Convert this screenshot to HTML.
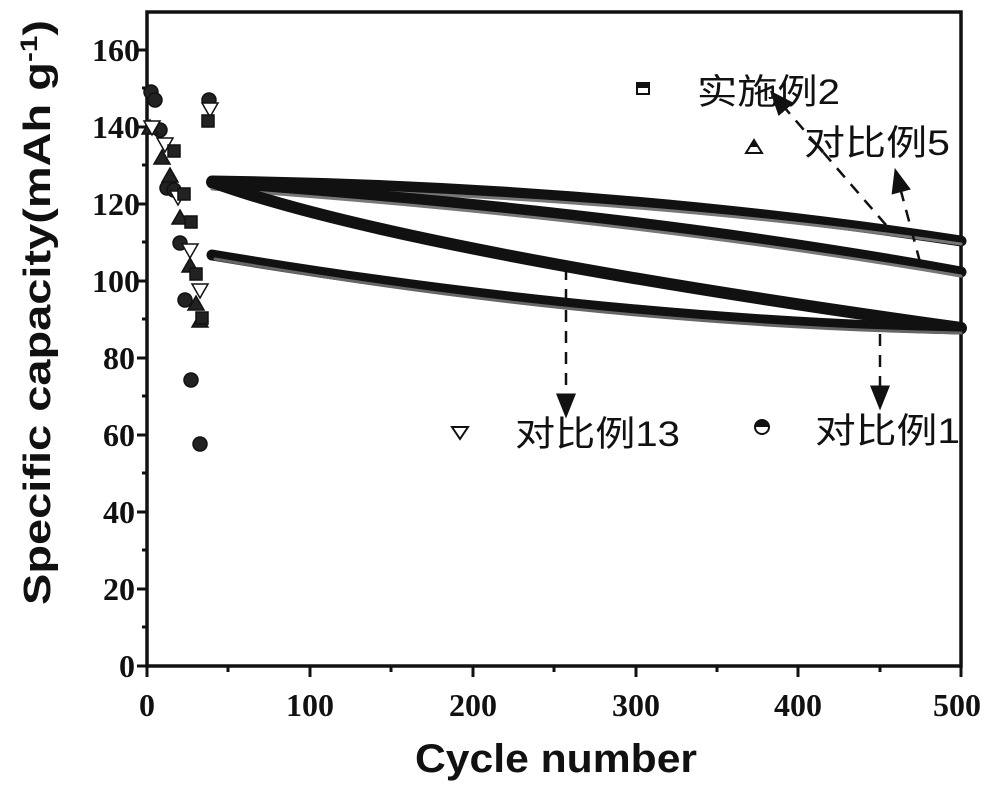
<!DOCTYPE html>
<html><head><meta charset="utf-8"><style>
html,body{margin:0;padding:0;background:#fff;}
svg{display:block;}
.t{font-family:"Liberation Serif",serif;font-weight:bold;font-size:32px;fill:#111;}
.c{font-family:"Liberation Sans","Noto Sans CJK SC",sans-serif;font-size:35px;fill:#111;}
</style></head><body>
<svg width="1000" height="790" viewBox="0 0 1000 790" xmlns="http://www.w3.org/2000/svg">
<defs>
<marker id="ah" markerWidth="10" markerHeight="10" refX="5" refY="5" orient="auto"><path d="M0,1 L10,5 L0,9 z" fill="#111"/></marker>
</defs>
<rect x="147" y="12" width="814" height="654" fill="none" stroke="#111" stroke-width="3.5"/>
<g stroke="#111" stroke-width="3">
<line x1="137" y1="666" x2="147" y2="666"/><line x1="137" y1="589" x2="147" y2="589"/><line x1="137" y1="512" x2="147" y2="512"/><line x1="137" y1="435" x2="147" y2="435"/><line x1="137" y1="358" x2="147" y2="358"/><line x1="137" y1="281" x2="147" y2="281"/><line x1="137" y1="204" x2="147" y2="204"/><line x1="137" y1="127" x2="147" y2="127"/><line x1="137" y1="50" x2="147" y2="50"/>
<line x1="142" y1="627" x2="147" y2="627"/><line x1="142" y1="550" x2="147" y2="550"/><line x1="142" y1="473" x2="147" y2="473"/><line x1="142" y1="396" x2="147" y2="396"/><line x1="142" y1="319" x2="147" y2="319"/><line x1="142" y1="242" x2="147" y2="242"/><line x1="142" y1="165" x2="147" y2="165"/><line x1="142" y1="88" x2="147" y2="88"/>
<line x1="147" y1="666" x2="147" y2="677"/><line x1="310" y1="666" x2="310" y2="677"/><line x1="473" y1="666" x2="473" y2="677"/><line x1="636" y1="666" x2="636" y2="677"/><line x1="798" y1="666" x2="798" y2="677"/><line x1="961" y1="666" x2="961" y2="677"/>
<line x1="228" y1="666" x2="228" y2="672"/><line x1="391" y1="666" x2="391" y2="672"/><line x1="554" y1="666" x2="554" y2="672"/><line x1="717" y1="666" x2="717" y2="672"/><line x1="880" y1="666" x2="880" y2="672"/>
</g>
<g class="t" text-anchor="end">
<text x="135" y="677">0</text><text x="135" y="600">20</text><text x="135" y="523">40</text><text x="135" y="446">60</text><text x="135" y="369">80</text><text x="140" y="292">100</text><text x="140" y="215">120</text><text x="140" y="138">140</text><text x="140" y="61">160</text>
</g>
<g class="t" text-anchor="middle">
<text x="147" y="716">0</text><text x="310" y="716">100</text><text x="473" y="716">200</text><text x="636" y="716">300</text><text x="798" y="716">400</text><text x="957" y="716">500</text>
</g>
<text x="415" y="772" textLength="282" lengthAdjust="spacingAndGlyphs" style="font-family:'Liberation Sans',sans-serif;font-weight:bold;font-size:40px;fill:#111">Cycle number</text>
<text transform="translate(50,605) rotate(-90)" textLength="585" lengthAdjust="spacingAndGlyphs" style="font-family:'Liberation Sans',sans-serif;font-weight:bold;font-size:38px;fill:#111">Specific capacity(mAh g<tspan dy="-13" font-size="24">-1</tspan><tspan dy="13">)</tspan></text>
<g fill="none" stroke-linecap="round">
<path d="M212,181 Q600,186 961,241" stroke="#111" stroke-width="11"/>
<path d="M212,187 Q620,195 961,244" stroke="#777" stroke-width="3"/>
<path d="M212,183 Q620,210 961,272" stroke="#111" stroke-width="11"/>
<path d="M212,189 Q620,218 961,276" stroke="#777" stroke-width="3"/>
<path d="M212,182 Q400,250 961,328" stroke="#111" stroke-width="12"/>
<path d="M212,255 Q600,320 961,329" stroke="#111" stroke-width="11"/>
<path d="M215,259 Q600,326 961,333" stroke="#666" stroke-width="3"/>
</g>
<g fill="#222" stroke="#111" stroke-width="1.5">
<circle cx="151" cy="92" r="7"/><circle cx="155" cy="100" r="7"/><circle cx="160" cy="130" r="7"/><circle cx="167" cy="188" r="7"/><circle cx="174" cy="190" r="7"/><circle cx="180" cy="243" r="7"/><circle cx="185" cy="300" r="7"/><circle cx="191" cy="380" r="7"/><circle cx="200" cy="444" r="7"/><circle cx="209" cy="100" r="7"/>
<path d="M150,120 l8,14 h-16z"/><path d="M162,150 l8,14 h-16z"/><path d="M170,168 l8,14 h-16z"/><path d="M180,210 l8,14 h-16z"/><path d="M190,258 l8,14 h-16z"/><path d="M196,296 l8,14 h-16z"/><path d="M200,313 l8,14 h-16z"/>
<path d="M152,135 l8,-14 h-16z" fill="#fff"/><path d="M165,152 l8,-14 h-16z" fill="#fff"/><path d="M178,205 l8,-14 h-16z" fill="#fff"/><path d="M190,258 l8,-14 h-16z" fill="#fff"/><path d="M200,298 l8,-14 h-16z" fill="#fff"/><path d="M210,117 l8,-14 h-16z" fill="#fff"/>
<rect x="168" y="145" width="12" height="12"/><rect x="178" y="188" width="12" height="12"/><rect x="185" y="216" width="12" height="12"/><rect x="190" y="268" width="12" height="12"/><rect x="196" y="312" width="12" height="12"/><rect x="202" y="115" width="12" height="12"/>
</g>
<rect x="637" y="83" width="12" height="11" fill="#fff" stroke="#111" stroke-width="2"/><rect x="637" y="83" width="12" height="5" fill="#111"/>
<path d="M754,140 l8,13 h-16z" fill="#fff" stroke="#111" stroke-width="2"/><path d="M754,140 l4,7 h-8z" fill="#111"/>
<path d="M460,439 l8,-12 h-16z" fill="#fff" stroke="#111" stroke-width="2"/>
<circle cx="762" cy="427" r="7" fill="#fff" stroke="#111" stroke-width="2"/><path d="M755,427 a7,7 0 0 1 14,0z" fill="#111"/>
<text class="c" x="697" y="104" textLength="143" lengthAdjust="spacingAndGlyphs">实施例2</text>
<text class="c" x="804" y="155" textLength="146" lengthAdjust="spacingAndGlyphs">对比例5</text>
<text class="c" x="515" y="446" textLength="165" lengthAdjust="spacingAndGlyphs">对比例13</text>
<text class="c" x="815" y="443" textLength="145" lengthAdjust="spacingAndGlyphs">对比例1</text>
<g stroke="#111" stroke-width="2.5" fill="none" stroke-dasharray="12,9">
<path d="M886,225 L778,100" marker-end="url(#ah)"/>
<path d="M920,262 L898,180" marker-end="url(#ah)"/>
<path d="M566,268 L566,406" marker-end="url(#ah)"/>
<path d="M880,334 L880,398" marker-end="url(#ah)"/>
</g>
</svg>
</body></html>
